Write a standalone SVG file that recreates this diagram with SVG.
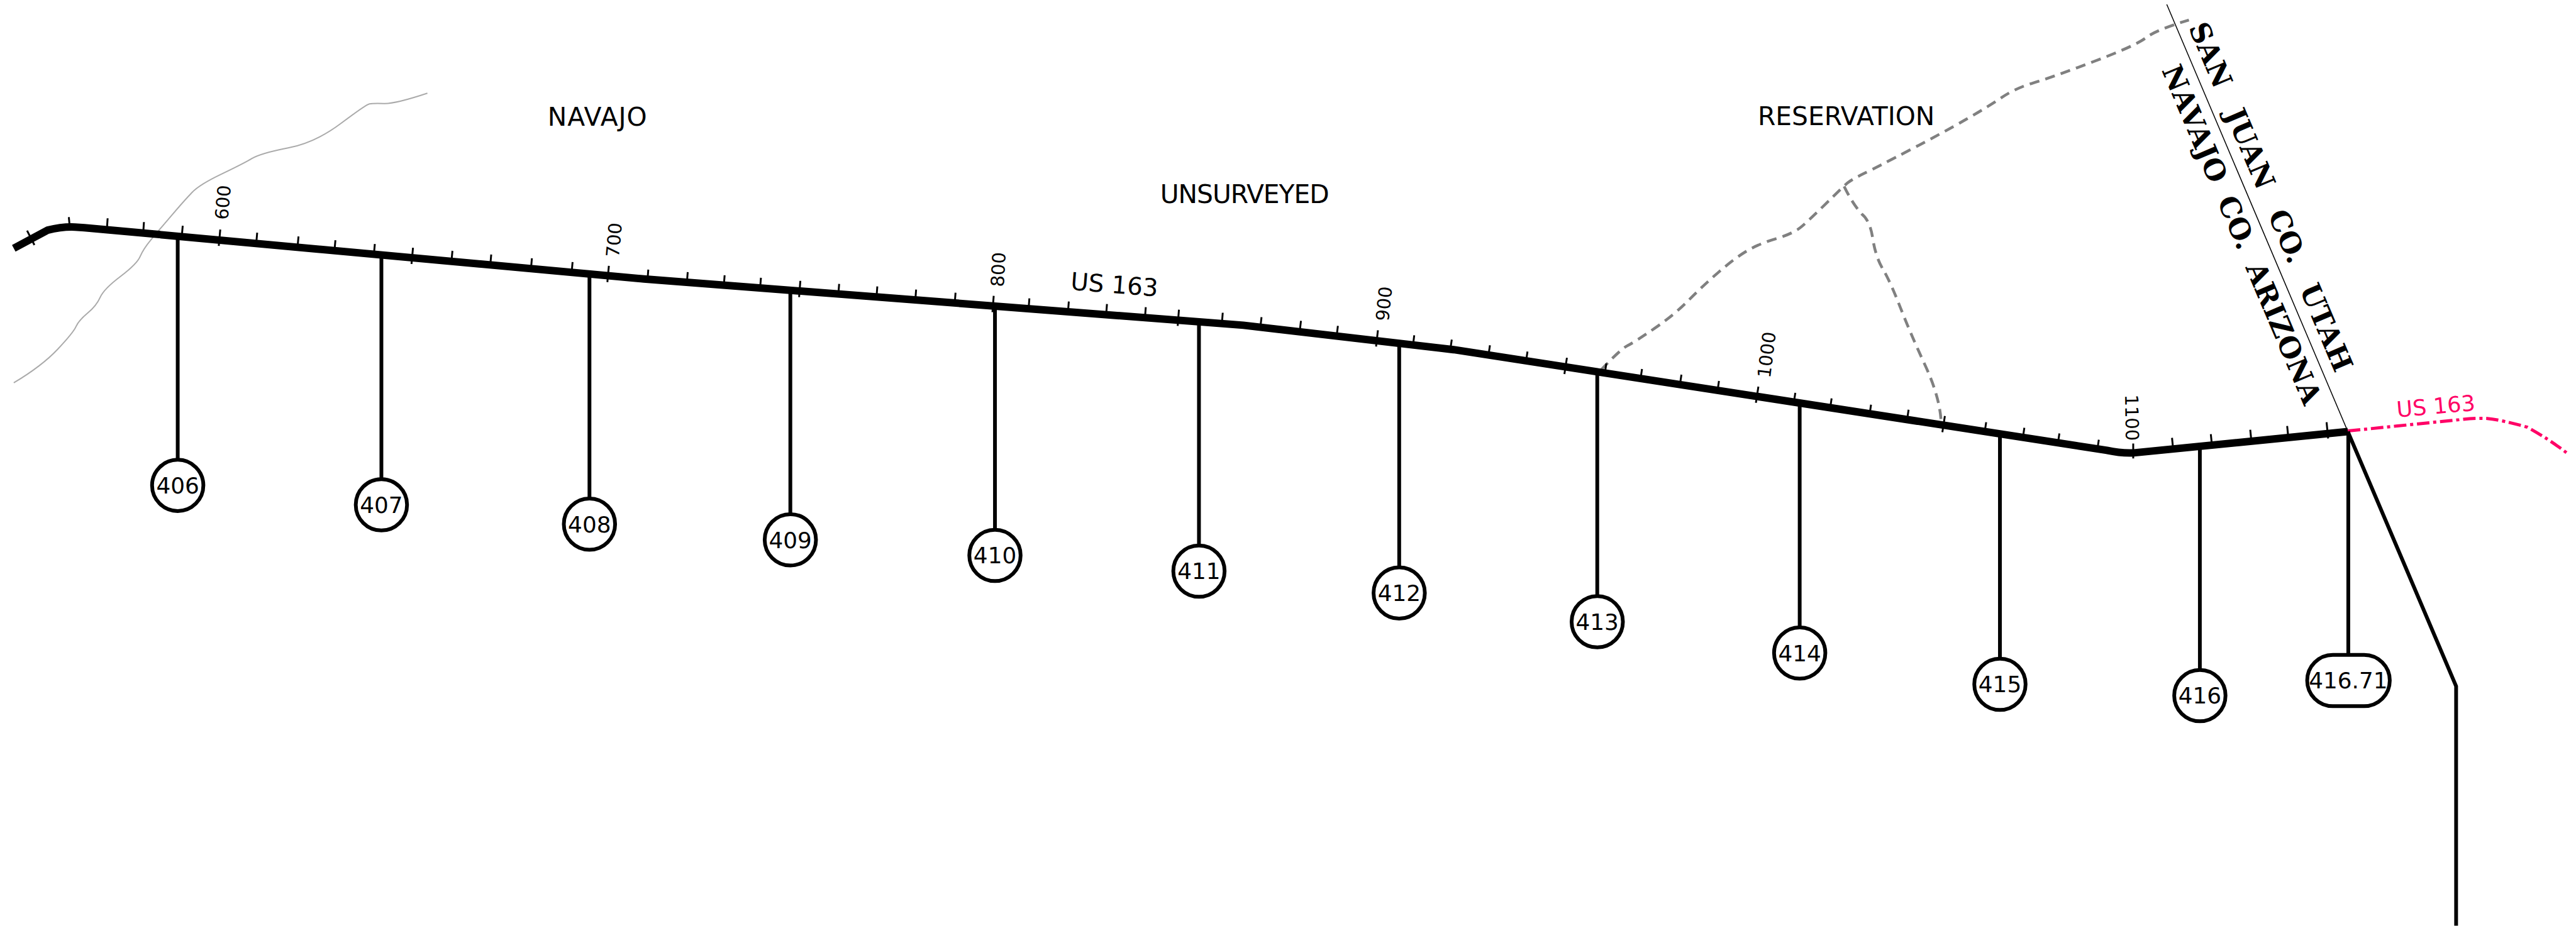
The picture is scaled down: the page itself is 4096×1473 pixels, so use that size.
<svg xmlns="http://www.w3.org/2000/svg" width="4096" height="1473" viewBox="0 0 4096 1473">
<style>
text{font-family:"DejaVu Sans",sans-serif;fill:#000}
.n{font-size:36px;text-anchor:middle}
.l{font-size:41px}
.m{font-size:29px}
.c{font-family:"DejaVu Serif",serif;font-weight:700;font-size:45px}
.o{fill:#fff;stroke:#000;stroke-width:6}
.s{fill:none;stroke:#000;stroke-width:6}
.t{fill:none;stroke:#000;stroke-width:3}
</style>
<rect width="4096" height="1473" fill="#fff"/>
<g transform="scale(0.995)">
<g id="connectors">
<path id="river" fill="none" stroke="#aaa" stroke-width="2" d="M22 612Q67 585 92 558.5Q117 532 121.5 522Q126 512 140 500.5Q154 489 160 475.5Q166 462 192.5 442Q219 422 224 410Q229 398 241.5 383Q254 368 274.5 344Q295 320 307 307.5Q319 295 353.5 278.5Q388 262 402.5 253.5Q417 245 460.5 236.5Q504 228 544.5 197.5Q585 167 590.5 166Q596 165 614 165.5Q632 166 683 149"/>
<g fill="none" stroke="#808080" stroke-width="4.500" stroke-dasharray="16 10">
<path id="wash-a" d="M2558 592Q2590 558 2601 552.5Q2612 547 2644 525Q2676 503 2698.5 480Q2721 457 2746.5 435Q2772 413 2791 401.5Q2810 390 2838.5 381.5Q2867 373 2880 361.5Q2893 350 2918.5 325Q2944 300 2950.5 294Q2957 288 2978.5 277.5Q3000 267 3053.5 239Q3107 211 3142.5 190.5Q3178 170 3199.5 155.5Q3221 141 3249.5 132.5Q3278 124 3345.5 98.5Q3413 73 3429 60.5Q3445 48 3498 32"/>
<path id="wash-b" d="M2947 298Q2960 325 2975 342Q2989 353 2993 383Q2998 413 3010 432Q3021 451 3037 492Q3053 533 3076.5 584Q3100 635 3102 674"/>
</g>
<path id="county-line" fill="none" stroke="#000" stroke-width="1.500" d="M3462.6 7L3752 690"/>
<path id="ticks" class="t" d="M43.3 368.7L55 391.7M110 347l1 11M172 349l-1 15M230 355l-1 16M292 361l-1.500 17M352 367l-2.400 26M411 372l-1.500 17M477 378l-1.500 17M536 384l-1.500 17M599 390l-1.500 17M660 396l-2.400 26M723 401l-1.500 17M785 407l-1.500 17M850 413l-1.500 17M915 419l-1.500 17M973 425l-2.400 26M1036 431l-1.300 17M1099 435l-1.300 17M1158 440l-1.300 17M1216 444l-1.300 17M1279 449l-2 26M1341 454l-1.300 17M1402 458l-1.300 17M1464 463l-1.300 17M1527 468l-1.300 17M1588 473l-2 26M1645 477l-1.300 17M1708 482l-1.300 17M1769 486l-1.300 17M1831 491l-1.300 17M1884 495l-2 26M1954 500l-1.300 17M2016 507l-2 17M2079 513l-2 17M2138 521l-2 17M2202 528l-3 26M2260 536l-2 17M2320 543l-2.500 17M2381 552l-2.500 17M2441 562l-2.500 17M2504 572l-4 26M2567 581l-2.500 17M2624 590l-2.500 17M2687 599l-2.500 17M2747 609l-2.500 17M2810 618l-4 26M2869 628l-2.500 17M2927 637l-2.500 17M2990 647l-2.500 17M3050 655l-2.500 17M3108 665l-4 26M3174 675l-2.500 17M3235 684l-2.500 17M3291 693l-2.500 17M3354 703l-2.500 17M3409 709l0 24M3471 700l1.700 17M3533 694l1.700 17M3596 687l1.700 17M3655 681l1.700 17M3718 675l2.500 26"/>
<path id="road" fill="none" stroke="#000" stroke-width="12" d="M22 397L76 368Q100 362 120 363L135 364L1029 446L1987 520L2323 559L3367 720Q3390 725 3410 724L3752 690"/>
<path id="us163-east" fill="none" stroke="#ff0066" stroke-width="5" stroke-dasharray="20 6 5 6" d="M3752 689L3930 671Q3954 668 3975 669Q3996 671 4039 683Q4075 703 4103 725"/>
<path id="road-south" class="s" d="M3752 690L3925 1097V1480"/>
<path class="s" d="M284 378V735M609.500 407V766M942 438V797M1263 464V822M1590 489V847M1916 514V872M2236 549V907M2552.500 595V953M2876 645V1003M3196 695V1053M3515.500 713V1071M3752.700 690V1047"/>
</g>
<g id="n406"><circle class="o" cx="284" cy="776" r="41"/><text class="n" x="284" y="789">406</text></g>
<g id="n407"><circle class="o" cx="609.500" cy="807" r="41"/><text class="n" x="609.500" y="820">407</text></g>
<g id="n408"><circle class="o" cx="942" cy="838" r="41"/><text class="n" x="942" y="851">408</text></g>
<g id="n409"><circle class="o" cx="1263" cy="863" r="41"/><text class="n" x="1263" y="876">409</text></g>
<g id="n410"><circle class="o" cx="1590" cy="888" r="41"/><text class="n" x="1590" y="901">410</text></g>
<g id="n411"><circle class="o" cx="1916" cy="913" r="41"/><text class="n" x="1916" y="926">411</text></g>
<g id="n412"><circle class="o" cx="2236" cy="948" r="41"/><text class="n" x="2236" y="961">412</text></g>
<g id="n413"><circle class="o" cx="2552.500" cy="994" r="41"/><text class="n" x="2552.500" y="1007">413</text></g>
<g id="n414"><circle class="o" cx="2876" cy="1044" r="41"/><text class="n" x="2876" y="1057">414</text></g>
<g id="n415"><circle class="o" cx="3196" cy="1094" r="41"/><text class="n" x="3196" y="1107">415</text></g>
<g id="n416"><circle class="o" cx="3515.500" cy="1112" r="41"/><text class="n" x="3515.500" y="1125">416</text></g>
<g id="n416-71"><rect class="o" x="3687" y="1047" width="132" height="82" rx="41"/><text class="n" x="3752.700" y="1101">416.71</text></g>
<text class="l" x="875" y="201" letter-spacing="1">NAVAJO</text>
<text class="l" x="1854" y="325" letter-spacing="-1">UNSURVEYED</text>
<text class="l" x="2809" y="200">RESERVATION</text>
<text transform="translate(1710 463) rotate(4.500)" style="font-size:39px">US 163</text>
<text transform="translate(3831 667) rotate(-5)" style="font-size:35px;fill:#ff0066">US 163</text>
<text class="m" transform="translate(364 352) rotate(-85)">600</text>
<text class="m" transform="translate(989 412) rotate(-85)">700</text>
<text class="m" transform="translate(1604 459) rotate(-87)">800</text>
<text class="m" transform="translate(2219 514) rotate(-84)">900</text>
<text class="m" transform="translate(2829 605) rotate(-83)">1000</text>
<text class="m" transform="translate(3396 631) rotate(89)">1100</text>
<text class="c" word-spacing="25" transform="translate(3497 44) rotate(67)">SAN JUAN CO. UTAH</text>
<text class="c" word-spacing="12" transform="translate(3454 112) rotate(67)">NAVAJO CO. ARIZONA</text>
</g>
</svg>
